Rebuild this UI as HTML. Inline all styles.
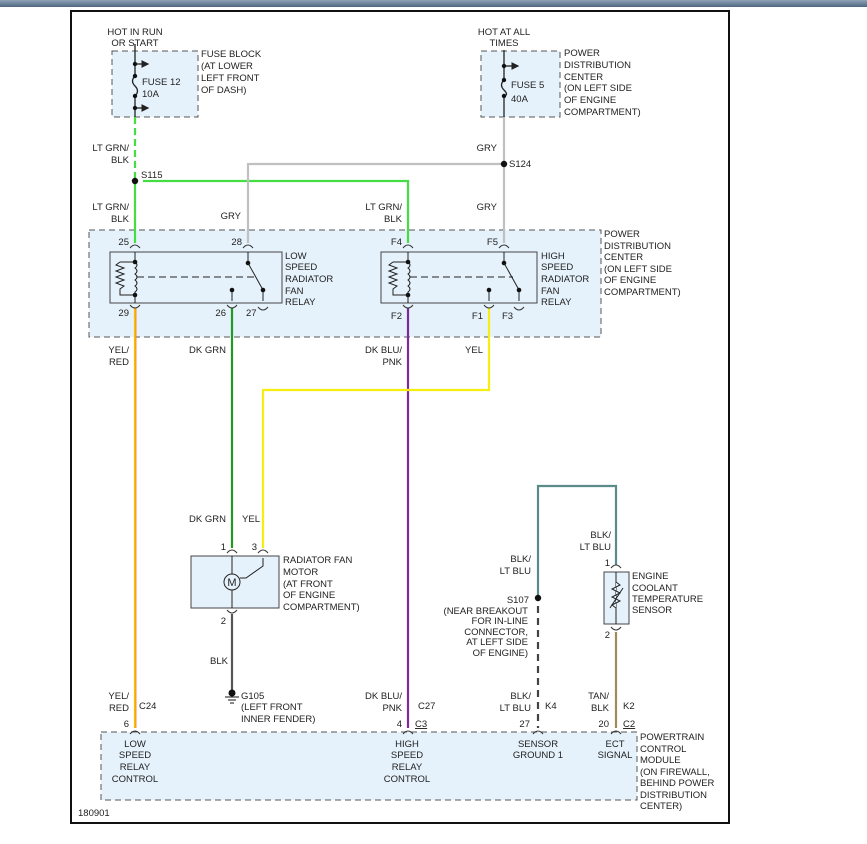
<!DOCTYPE html>
<html><head><meta charset="utf-8"><style>
html,body{margin:0;padding:0;background:#fff;}
svg{display:block;}
text{font-family:"Liberation Sans",sans-serif;font-size:9.5px;fill:#222;}
.r{text-anchor:end}.m{text-anchor:middle}
</style></head><body>
<svg width="867" height="844" viewBox="0 0 867 844" xmlns="http://www.w3.org/2000/svg">
<defs>
<linearGradient id="g" x1="0" y1="0" x2="0" y2="1"><stop offset="0" stop-color="#8fa3b8"/><stop offset="1" stop-color="#4d6680"/></linearGradient>
<marker id="ar" markerWidth="6" markerHeight="6" refX="5" refY="3" orient="auto"><path d="M0,0 L6,3 L0,6 z" fill="#222"/></marker>
</defs>
<rect x="0" y="0" width="867" height="7" fill="url(#g)"/>
<rect x="71" y="11" width="658" height="812" fill="#fff" stroke="#111" stroke-width="2"/>

<g fill="#e6f2fb" stroke="#555" stroke-dasharray="6,4" stroke-width="1">
<rect x="112" y="51" width="86" height="66"/>
<rect x="481" y="51" width="79" height="66"/>
<rect x="89" y="230" width="512" height="107"/>
<rect x="101" y="732" width="536" height="68"/>
</g>
<g fill="#e6f2fb" stroke="#444" stroke-width="1">
<rect x="110" y="252" width="172" height="51"/>
<rect x="381" y="252" width="156" height="51"/>
<rect x="191" y="556" width="88" height="52"/>
<rect x="604" y="572" width="25" height="52"/>
</g>

<g stroke="#222" stroke-width="1.3" fill="none">
<line x1="135" y1="44" x2="135" y2="76"/><path d="M135,76 q-5,5 0,10 q5,5 0,10"/><line x1="135" y1="96" x2="135" y2="117"/>
<line x1="135" y1="64" x2="148" y2="64" marker-end="url(#ar)"/><line x1="135" y1="108" x2="148" y2="108" marker-end="url(#ar)"/>
<line x1="504" y1="50" x2="504" y2="80"/><path d="M504,80 q-5,5 0,10 q5,5 0,6"/><line x1="504" y1="96" x2="504" y2="117"/>
<line x1="504" y1="66" x2="518" y2="66" marker-end="url(#ar)"/>
</g>
<g fill="#111"><circle cx="135" cy="64" r="2.2"/><circle cx="135" cy="76" r="2.2"/><circle cx="135" cy="96" r="2.2"/><circle cx="135" cy="108" r="2.2"/>
<circle cx="504" cy="66" r="2.2"/><circle cx="504" cy="80" r="2.2"/><circle cx="504" cy="96" r="2.2"/></g>

<g fill="none" stroke-width="2.2">
<line x1="135" y1="117" x2="135" y2="178" stroke="#44dd44" stroke-dasharray="7,4"/>
<path d="M135,181 V243 M143,181 H408 V243" stroke="#44dd44"/>
<path d="M504,117 V243 M504,164 H248 V243" stroke="#c0c0c0"/>
<line x1="135" y1="308" x2="135" y2="728" stroke="#f5c400"/>
<line x1="136" y1="308" x2="136" y2="728" stroke="#ff7030" stroke-width="0.8"/>
<line x1="232" y1="308" x2="232" y2="548" stroke="#229922"/>
<line x1="408" y1="308" x2="408" y2="728" stroke="#7a2a9a"/>
<path d="M489,308 V390 H263 V548" stroke="#f5ee10"/>
<path d="M232,614 V690" stroke="#555"/>
<path d="M616,565 V486 H538 V598" stroke="#5a8a8a"/>
<line x1="538" y1="606" x2="538" y2="728" stroke="#444" stroke-dasharray="7,5"/>
<line x1="616" y1="632" x2="616" y2="728" stroke="#a08a5a"/>
</g>
<circle cx="135" cy="181" r="3.2" fill="#111"/><circle cx="504" cy="164" r="3.2" fill="#111"/><circle cx="538" cy="598" r="3.2" fill="#111"/>

<g fill="none" stroke="#333" stroke-width="1">
<path d="M130,248 q5,-6 10,0 M243,248 q5,-6 10,0 M403,248 q5,-6 10,0 M499,248 q5,-6 10,0"/>
<path d="M130,305 q5,6 10,0 M227,305 q5,6 10,0 M258,307 q5,6 10,0 M403,305 q5,6 10,0 M484,305 q5,6 10,0 M514,307 q5,6 10,0"/>
<path d="M227,553 q5,-6 10,0 M258,553 q5,-6 10,0 M227,610 q5,6 10,0 M611,568 q5,-6 10,0 M611,627 q5,6 10,0"/>
<path d="M130,734 q5,-6 10,0 M403,734 q5,-6 10,0 M533,734 q5,-6 10,0 M611,734 q5,-6 10,0"/>
</g>

<g stroke="#222" stroke-width="1" fill="none">
<line x1="135" y1="252" x2="135" y2="262"/>
<path d="M135,262 q4,3 0,6 q4,3 0,6 q4,3 0,6 q4,3 0,6 q4,3 0,6 l0,3"/>
<path d="M135,262 H120 M120,262 l-4,3 l8,3 l-8,3 l8,3 l-8,3 l8,3 l-8,3 l8,3 l-4,3 V295 H135"/>
<line x1="135" y1="295" x2="135" y2="303"/>
<line x1="137" y1="277" x2="258" y2="277" stroke-dasharray="7,4"/>
<line x1="248" y1="252" x2="248" y2="263"/><path d="M248,263 L263,290"/><line x1="263" y1="290" x2="263" y2="301"/>
<line x1="232" y1="290" x2="232" y2="301"/>
<g transform="translate(273,0)">
<line x1="135" y1="252" x2="135" y2="262"/>
<path d="M135,262 q4,3 0,6 q4,3 0,6 q4,3 0,6 q4,3 0,6 q4,3 0,6 l0,3"/>
<path d="M135,262 H120 M120,262 l-4,3 l8,3 l-8,3 l8,3 l-8,3 l8,3 l-8,3 l8,3 l-4,3 V295 H135"/>
<line x1="135" y1="295" x2="135" y2="303"/>
<line x1="137" y1="277" x2="240" y2="277" stroke-dasharray="7,4"/>
</g>
<line x1="504" y1="252" x2="504" y2="263"/><path d="M504,263 L519,290"/><line x1="519" y1="290" x2="519" y2="301"/>
<line x1="489" y1="290" x2="489" y2="301"/>
<line x1="232" y1="556" x2="232" y2="608"/>
<circle cx="232" cy="582" r="8" fill="#e6f2fb"/>
<path d="M240,578 H246 L263,566 V558"/>
<line x1="616" y1="572" x2="616" y2="624"/>
<path d="M616,582 l4,3 l-8,4 l8,4 l-8,4 l8,4 l-8,4 l4,3" fill="#e6f2fb"/>
<line x1="610" y1="608" x2="623" y2="588"/>
</g>
<g fill="#111"><circle cx="135" cy="262" r="2.3"/><circle cx="135" cy="295" r="2.3"/><circle cx="408" cy="262" r="2.3"/><circle cx="408" cy="295" r="2.3"/>
<circle cx="248" cy="263" r="2.3"/><circle cx="263" cy="290" r="2.3"/><circle cx="232" cy="290" r="2.3"/>
<circle cx="504" cy="263" r="2.3"/><circle cx="519" cy="290" r="2.3"/><circle cx="489" cy="290" r="2.3"/></g>
<text x="232" y="586" class="m" style="font-size:11px">M</text>
<circle cx="232" cy="693" r="3.5" fill="#111"/>
<g stroke="#111"><line x1="225" y1="697" x2="239" y2="697"/><line x1="228" y1="700" x2="236" y2="700"/><line x1="230" y1="703" x2="234" y2="703"/></g>

<text x="135" y="35" class="m">HOT IN RUN</text><text x="135" y="46" class="m">OR START</text>
<text x="201" y="57">FUSE BLOCK</text><text x="201" y="69">(AT LOWER</text><text x="201" y="81">LEFT FRONT</text><text x="201" y="93">OF DASH)</text>
<text x="142" y="85">FUSE 12</text><text x="142" y="97">10A</text>
<text x="504" y="35" class="m">HOT AT ALL</text><text x="504" y="46" class="m">TIMES</text>
<text x="511" y="88">FUSE 5</text><text x="511" y="102">40A</text>
<text x="564" y="56">POWER</text><text x="564" y="68">DISTRIBUTION</text><text x="564" y="80">CENTER</text><text x="564" y="91">(ON LEFT SIDE</text><text x="564" y="103">OF ENGINE</text><text x="564" y="115">COMPARTMENT)</text>
<text x="129" y="151" class="r">LT GRN/</text><text x="129" y="163" class="r">BLK</text>
<text x="141" y="178">S115</text>
<text x="497" y="151" class="r">GRY</text><text x="509" y="167">S124</text>
<text x="129" y="210" class="r">LT GRN/</text><text x="129" y="222" class="r">BLK</text>
<text x="241" y="219" class="r">GRY</text>
<text x="402" y="210" class="r">LT GRN/</text><text x="402" y="222" class="r">BLK</text>
<text x="497" y="210" class="r">GRY</text>
<text x="604" y="237">POWER</text><text x="604" y="249">DISTRIBUTION</text><text x="604" y="260">CENTER</text><text x="604" y="272">(ON LEFT SIDE</text><text x="604" y="283">OF ENGINE</text><text x="604" y="295">COMPARTMENT)</text>
<text x="285" y="259">LOW</text><text x="285" y="270">SPEED</text><text x="285" y="282">RADIATOR</text><text x="285" y="294">FAN</text><text x="285" y="305">RELAY</text>
<text x="541" y="259">HIGH</text><text x="541" y="270">SPEED</text><text x="541" y="282">RADIATOR</text><text x="541" y="294">FAN</text><text x="541" y="305">RELAY</text>
<text x="129" y="245" class="r">25</text><text x="242" y="245" class="r">28</text><text x="402" y="245" class="r">F4</text><text x="498" y="245" class="r">F5</text>
<text x="129" y="316" class="r">29</text><text x="226" y="316" class="r">26</text><text x="246" y="316">27</text>
<text x="402" y="319" class="r">F2</text><text x="483" y="319" class="r">F1</text><text x="502" y="319">F3</text>
<text x="129" y="353" class="r">YEL/</text><text x="129" y="365" class="r">RED</text>
<text x="226" y="353" class="r">DK GRN</text>
<text x="402" y="353" class="r">DK BLU/</text><text x="402" y="365" class="r">PNK</text>
<text x="483" y="353" class="r">YEL</text>
<text x="226" y="522" class="r">DK GRN</text><text x="260" y="522" class="r">YEL</text>
<text x="611" y="538" class="r">BLK/</text><text x="611" y="550" class="r">LT BLU</text>
<text x="531" y="562" class="r">BLK/</text><text x="531" y="574" class="r">LT BLU</text>
<text x="226" y="550" class="r">1</text><text x="257" y="550" class="r">3</text><text x="226" y="624" class="r">2</text>
<text x="610" y="566" class="r">1</text><text x="610" y="638" class="r">2</text>
<text x="283" y="563">RADIATOR FAN</text><text x="283" y="575">MOTOR</text><text x="283" y="587">(AT FRONT</text><text x="283" y="598">OF ENGINE</text><text x="283" y="610">COMPARTMENT)</text>
<text x="632" y="579">ENGINE</text><text x="632" y="591">COOLANT</text><text x="632" y="602">TEMPERATURE</text><text x="632" y="613">SENSOR</text>
<text x="529" y="603" class="r">S107</text><text x="528" y="614" class="r">(NEAR BREAKOUT</text><text x="528" y="624" class="r">FOR IN-LINE</text><text x="528" y="635" class="r">CONNECTOR,</text><text x="528" y="645" class="r">AT LEFT SIDE</text><text x="528" y="656" class="r">OF ENGINE)</text>
<text x="228" y="664" class="r">BLK</text>
<text x="241" y="699">G105</text><text x="241" y="710">(LEFT FRONT</text><text x="241" y="722">INNER FENDER)</text>
<text x="129" y="699" class="r">YEL/</text><text x="129" y="711" class="r">RED</text><text x="139" y="709">C24</text>
<text x="402" y="699" class="r">DK BLU/</text><text x="402" y="711" class="r">PNK</text><text x="418" y="709">C27</text>
<text x="531" y="699" class="r">BLK/</text><text x="531" y="711" class="r">LT BLU</text><text x="545" y="709">K4</text>
<text x="609" y="699" class="r">TAN/</text><text x="609" y="711" class="r">BLK</text><text x="623" y="709">K2</text>
<text x="129" y="727" class="r">6</text><text x="402" y="727" class="r">4</text><text x="415" y="727" text-decoration="underline">C3</text>
<text x="530" y="727" class="r">27</text><text x="609" y="727" class="r">20</text><text x="623" y="727" text-decoration="underline">C2</text>
<text x="135" y="747" class="m">LOW</text><text x="135" y="758" class="m">SPEED</text><text x="135" y="770" class="m">RELAY</text><text x="135" y="782" class="m">CONTROL</text>
<text x="407" y="747" class="m">HIGH</text><text x="407" y="758" class="m">SPEED</text><text x="407" y="770" class="m">RELAY</text><text x="407" y="782" class="m">CONTROL</text>
<text x="538" y="747" class="m">SENSOR</text><text x="538" y="758" class="m">GROUND 1</text>
<text x="615" y="747" class="m">ECT</text><text x="615" y="758" class="m">SIGNAL</text>
<text x="640" y="740">POWERTRAIN</text><text x="640" y="752">CONTROL</text><text x="640" y="763">MODULE</text><text x="640" y="775">(ON FIREWALL,</text><text x="640" y="786">BEHIND POWER</text><text x="640" y="798">DISTRIBUTION</text><text x="640" y="809">CENTER)</text>
<text x="78" y="816">180901</text>
</svg>
</body></html>
